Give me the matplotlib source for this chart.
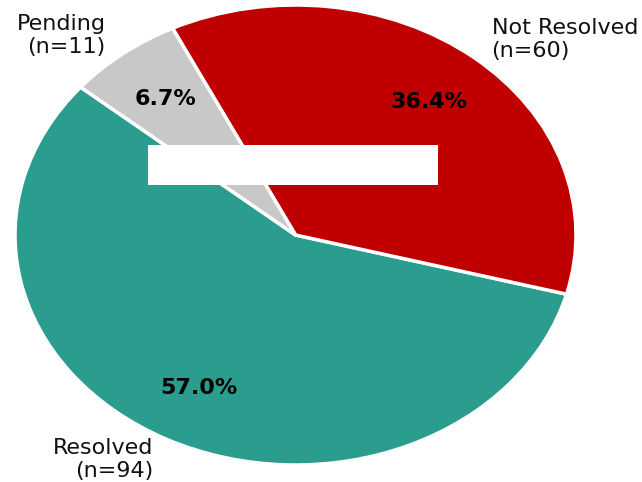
import matplotlib
matplotlib.use("Agg")
import matplotlib.pyplot as plt
from matplotlib.patches import Rectangle

# case status counts
statuses = ["Resolved", "Not Resolved", "Pending"]
counts = [94, 60, 11]
colors = ["#2a9d8f", "#c00000", "#c8c8c8"]

labels = [f"{s}\n(n={n})" for s, n in zip(statuses, counts)]

fig = plt.figure(figsize=(6.42, 4.82), dpi=100)
ax = fig.add_axes([15 / 642, 17 / 482, 561 / 642, 460 / 482])

wedges, texts, autotexts = ax.pie(
    counts,
    labels=labels,
    colors=colors,
    startangle=140,
    autopct="%1.1f%%",
    pctdistance=0.75,
    labeldistance=1.1,
    wedgeprops=dict(edgecolor="white", linewidth=2.5),
    textprops=dict(fontsize=16, color="#111111"),
)
for t in autotexts:
    t.set_fontweight("bold")
    t.set_color("black")

ax.set_aspect("auto")
ax.set_xlim(-1, 1)
ax.set_ylim(-1, 1)

# blank box over the middle
fig.patches.append(Rectangle((148 / 642, 1 - 185 / 482), 290 / 642, 40 / 482,
                             transform=fig.transFigure, facecolor="white",
                             edgecolor="none", zorder=10))

fig.savefig("out.png", dpi=100)
